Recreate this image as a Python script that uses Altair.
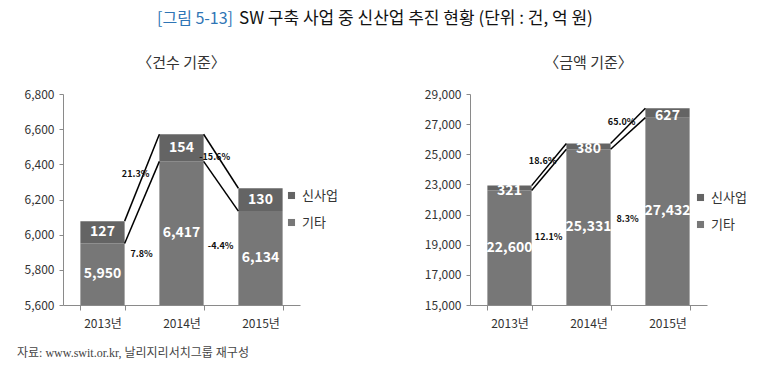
import altair as alt
import pandas as pd

# ---------------- data ----------------
years = ["2013년", "2014년", "2015년"]
series = ["신사업", "기타"]

count_other = [5950, 6417, 6134]
count_new = [127, 154, 130]
count_new_growth = ["21.3%", "-15.6%"]
count_other_growth = ["7.8%", "-4.4%"]
count_domain = [5600, 6800]
count_ticks = [5600, 5800, 6000, 6200, 6400, 6600, 6800]

amount_other = [22600, 25331, 27432]
amount_new = [321, 380, 627]
amount_new_growth = ["18.6%", "65.0%"]
amount_other_growth = ["12.1%", "8.3%"]
amount_domain = [15000, 29000]
amount_ticks = [15000, 17000, 19000, 21000, 23000, 25000, 27000, 29000]

title_tag = "[그림 5-13]"
title_main = "SW 구축 사업 중 신산업 추진 현황 (단위 : 건, 억 원)"
sub_left = "〈건수 기준〉"
sub_right = "〈금액 기준〉"
source_note = "자료: www.swit.or.kr, 날리지리서치그룹 재구성"

# ---------------- styles ----------------
FONT = "Noto Sans CJK KR"
COLORS = ["#646464", "#777777"]
AXIS_GRAY = "#8a8a8a"
W, H = 237, 211

one = pd.DataFrame({"a": [0]})


def text_layer(txt, x, y, **kw):
    return alt.Chart(one).mark_text(text=txt, baseline="middle", **kw).encode(
        x=alt.value(x), y=alt.value(y))


def panel(other, new, domain, ticks, new_g, other_g, subtitle, legx, legy,
          new_dy, extra_layers=None):
    dmin = domain[0]
    rows = []
    for y, o, n in zip(years, other, new):
        rows.append(dict(year=y, series="기타", y0=0, y1=o,
                         ly=(dmin + o) / 2, label=f"{o:,}"))
        rows.append(dict(year=y, series="신사업", y0=o, y1=o + n,
                         ly=o + n / 2, label=f"{n:,}"))
    bars_df = pd.DataFrame(rows)

    lines = []
    pct_new = []
    pct_other = []
    for i in range(len(years) - 1):
        t1, t2 = other[i] + new[i], other[i + 1] + new[i + 1]
        lines.append(dict(frm=years[i], to=years[i + 1], ya=t1, yb=t2))
        lines.append(dict(frm=years[i], to=years[i + 1], ya=other[i], yb=other[i + 1]))
        pct_new.append(dict(frm=years[i], ly=(t1 + t2) / 2, text=new_g[i]))
        pct_other.append(dict(frm=years[i],
                              ly=((dmin + other[i]) / 2 + (dmin + other[i + 1]) / 2) / 2,
                              text=other_g[i]))
    lines_df = pd.DataFrame(lines)
    pn_df = pd.DataFrame(pct_new)
    po_df = pd.DataFrame(pct_other)

    xscale = alt.Scale(domain=years, paddingInner=0.44, paddingOuter=0.22)
    yscale = alt.Scale(domain=domain)
    xaxis = alt.Axis(labelAngle=0, tickBand="extent", domainColor=AXIS_GRAY,
                     tickColor=AXIS_GRAY, tickSize=5, labelPadding=8,
                     labelFontSize=12, labelColor="#333333", labelFont=FONT)
    yaxis = alt.Axis(values=ticks, format=",.0f", grid=False, domainColor=AXIS_GRAY,
                     tickColor=AXIS_GRAY, tickSize=4, labelPadding=5,
                     labelFontSize=12, labelColor="#333333", labelFont=FONT)

    def X(field, **kw):
        return alt.X(field, scale=xscale, axis=xaxis, title=None, **kw)

    def Y(field):
        return alt.Y(field, scale=yscale, axis=yaxis, title=None)

    bars = alt.Chart(bars_df).mark_bar(clip=True).encode(
        x=X("year:N"),
        y=Y("y0:Q"),
        y2="y1:Q",
        color=alt.Color("series:N", scale=alt.Scale(domain=series, range=COLORS),
                        legend=alt.Legend(orient="none", legendX=legx, legendY=legy,
                                          title=None, symbolType="square", symbolSize=50,
                                          symbolStrokeWidth=0, labelFontSize=13,
                                          labelFont=FONT, labelColor="#333333",
                                          rowPadding=13, labelOffset=4)),
    )

    lab_other = alt.Chart(bars_df).transform_filter(alt.datum.series == "기타").mark_text(
        color="white", fontSize=14, fontWeight="bold", font=FONT, baseline="middle"
    ).encode(x=X("year:N"), y=Y("ly:Q"), text="label:N")
    lab_new = alt.Chart(bars_df).transform_filter(alt.datum.series == "신사업").mark_text(
        color="white", fontSize=14, fontWeight="bold", font=FONT, baseline="middle",
        dy=new_dy
    ).encode(x=X("year:N"), y=Y("ly:Q"), text="label:N")

    rules = alt.Chart(lines_df).mark_rule(color="black", strokeWidth=1.5).encode(
        x=X("frm:N", bandPosition=1),
        x2=alt.X2("to:N", bandPosition=0),
        y=Y("ya:Q"),
        y2="yb:Q",
    )

    pct1 = alt.Chart(pn_df).mark_text(
        fontSize=9, fontWeight="bold", font=FONT, color="#111111", dx=11, dy=-4
    ).encode(x=X("frm:N", bandPosition=1), y=Y("ly:Q"), text="text:N")
    pct2 = alt.Chart(po_df).mark_text(
        fontSize=9, fontWeight="bold", font=FONT, color="#111111", dx=17
    ).encode(x=X("frm:N", bandPosition=1), y=Y("ly:Q"), text="text:N")

    sub = text_layer(subtitle, W / 2, -31, font=FONT, fontSize=15, color="#333333",
                     align="center")

    layers = [bars, rules, lab_other, lab_new, pct1, pct2, sub]
    if extra_layers:
        layers += extra_layers
    return alt.layer(*layers).properties(width=W, height=H)


tag = text_layer(title_tag, 94, -75, font=FONT, fontSize=16,
                 color="#2f75b5", align="left")
ttl = text_layer(title_main, 176, -75, font=FONT, fontSize=17,
                 color="#111111", align="left")
note = text_layer(source_note, -46, 259, font="Liberation Serif, " + FONT,
                  fontSize=12, color="#444444", align="left")

left = panel(count_other, count_new, count_domain, count_ticks,
             count_new_growth, count_other_growth, sub_left, 222, 95, 0,
             extra_layers=[tag, ttl, note])
right = panel(amount_other, amount_new, amount_domain, amount_ticks,
              amount_new_growth, amount_other_growth, sub_right, 224, 97, 3)

chart = alt.hconcat(left, right, spacing=170, bounds="flush").resolve_scale(
    color="independent", x="independent", y="independent"
).resolve_legend(color="independent").properties(
    padding={"left": 17, "top": 10, "right": 5, "bottom": 5},
    background="white",
).configure_view(stroke=None)

chart.save("out.html", embed_options={"renderer": "svg", "actions": False})
